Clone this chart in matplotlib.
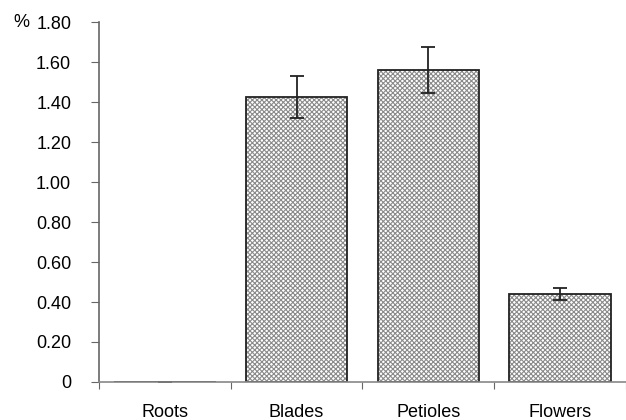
import matplotlib.pyplot as plt
import numpy as np

plt.rcParams['font.family'] = ['Liberation Sans', 'DejaVu Sans']
plt.rcParams['hatch.linewidth'] = 0.8

parts = ['Roots', 'Blades', 'Petioles', 'Flowers']
values = [0.0, 1.425, 1.56, 0.44]
errors = [0.0, 0.105, 0.115, 0.03]
yticks = [0, 0.2, 0.4, 0.6, 0.8, 1.0, 1.2, 1.4, 1.6, 1.8]
ytick_labels = ['0', '0.20', '0.40', '0.60', '0.80', '1.00', '1.20', '1.40', '1.60', '1.80']

fig = plt.figure(figsize=(6.26, 4.2), dpi=100)
ax = fig.add_axes([0.158, 0.0905, 0.842, 0.857])

x = np.arange(len(parts))
ax.bar(x, values, width=0.77, color='white', edgecolor='#8a8a8a', hatch='xxxxxxx', linewidth=0)
ax.bar(x, values, width=0.77, fill=False, edgecolor='#222222', linewidth=1.3)
ax.errorbar(x, values, yerr=errors, fmt='none', ecolor='#222222', elinewidth=1.3, capsize=5, capthick=1.3)

ax.set_xlim(-0.5, 3.5)
ax.set_ylim(0, 1.8)
ax.set_yticks(yticks)
ax.set_yticklabels(ytick_labels, fontsize=13)
ax.set_xticks([-0.5, 0.5, 1.5, 2.5, 3.5])
ax.set_xticklabels([])
ax.tick_params(axis='y', direction='out', length=6, color='#666666', pad=14)
ax.tick_params(axis='x', direction='out', length=5, color='#666666')
for i, p in enumerate(parts):
    ax.text(i, -0.155, p, ha='center', va='center', fontsize=13, clip_on=False)
ax.text(-0.148, 1.8, '%', ha='center', va='center', fontsize=13, transform=ax.get_yaxis_transform())

ax.spines['top'].set_visible(False)
ax.spines['right'].set_visible(False)
ax.spines['left'].set_color('#666666')
ax.spines['bottom'].set_color('#888888')
ax.spines['left'].set_linewidth(1.2)
ax.spines['bottom'].set_linewidth(1.2)

fig.savefig('out.png', dpi=100)
